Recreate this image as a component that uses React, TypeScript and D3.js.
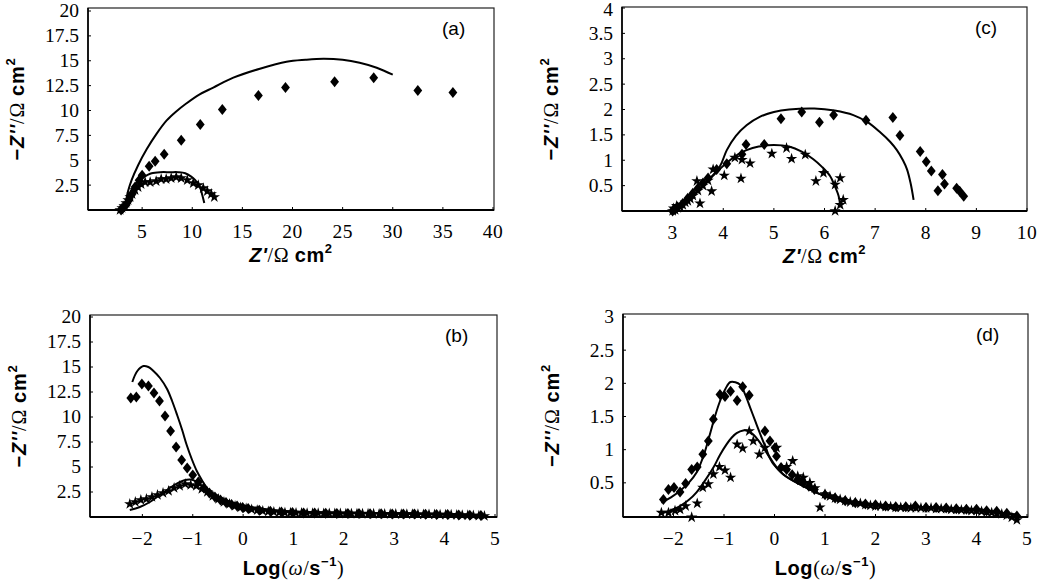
import React from 'react';
import * as d3 from 'd3';

type Pt = [number, number];

// ---- panel (a): Nyquist, sample 1 ----
const nyqADiamonds: Pt[] = [
  [36.0, 11.8], [32.5, 12.0], [28.1, 13.3], [24.2, 12.9], [19.3, 12.3], [16.6, 11.5],
  [13.0, 10.1], [10.8, 8.6], [8.9, 7.0], [7.2, 5.6], [6.3, 4.9], [5.7, 4.4], [5.0, 3.5],
  [4.7, 3.0], [4.3, 2.3], [4.0, 1.6], [3.7, 1.0], [3.4, 0.5], [3.1, 0.2], [2.9, 0.0],
];
const nyqAStars: Pt[] = [
  [2.8, 0.0], [3.0, 0.2], [3.2, 0.4], [3.4, 0.7], [3.6, 1.0], [3.8, 1.3], [4.0, 1.6],
  [4.3, 2.0], [4.6, 2.3], [4.9, 2.6], [5.3, 2.8], [5.8, 2.8], [6.4, 2.9], [6.9, 3.1],
  [7.4, 3.1], [7.9, 3.2], [8.4, 3.3], [8.9, 3.2], [9.5, 3.0], [10.1, 2.7], [10.6, 2.5],
  [11.1, 2.2], [11.5, 1.9], [11.9, 1.6], [12.2, 1.3],
];
const nyqADiamondFit: Pt[] = [
  [3.45, 1.2], [3.6, 1.9], [3.95, 3.0], [4.6, 4.5], [5.45, 6.1], [6.4, 7.6], [7.45, 9.0],
  [8.4, 9.9], [9.4, 10.7], [10.7, 11.6], [12.1, 12.3], [14.1, 13.3], [16.75, 14.2],
  [19.4, 14.9], [21.3, 15.1], [23.1, 15.2], [25.0, 15.1], [26.7, 14.8], [28.4, 14.3], [30.0, 13.6],
];
const nyqAStarFit: Pt[] = [
  [3.3, 0.6], [3.6, 1.3], [4.1, 2.3], [4.5, 2.8], [4.95, 3.2], [5.5, 3.5], [5.95, 3.7],
  [6.8, 3.8], [7.8, 3.8], [8.6, 3.8], [9.3, 3.7], [9.9, 3.35], [10.3, 3.0], [10.8, 2.2],
  [11.0, 1.5], [11.2, 0.7],
];

// ---- panel (b): Bode, sample 1 ----
const bodeBDiamonds: Pt[] = [
  [-2.23, 11.9], [-2.12, 12.0], [-2.01, 13.3], [-1.88, 13.1], [-1.77, 12.4], [-1.66, 11.6],
  [-1.55, 10.1], [-1.44, 8.6], [-1.33, 7.0], [-1.22, 5.7], [-1.11, 4.9], [-1.0, 4.2],
  [-0.89, 3.5], [-0.78, 2.9], [-0.67, 2.4], [-0.56, 2.0], [-0.45, 1.7], [-0.34, 1.45],
  [-0.23, 1.25], [-0.12, 1.1], [-0.01, 0.95], [0.1, 0.85], [0.32, 0.68], [0.54, 0.57],
  [0.76, 0.49], [0.98, 0.44], [1.2, 0.41], [1.42, 0.39], [1.64, 0.37], [1.86, 0.36],
  [2.08, 0.35], [2.3, 0.34], [2.52, 0.33], [2.74, 0.32], [2.96, 0.31], [3.18, 0.3],
  [3.4, 0.29], [3.62, 0.28], [3.84, 0.26], [4.06, 0.24], [4.28, 0.21], [4.5, 0.18], [4.72, 0.14],
];
const bodeBStars: Pt[] = [
  [-2.25, 1.3], [-2.14, 1.5], [-2.03, 1.7], [-1.92, 1.8], [-1.81, 2.0], [-1.7, 2.2],
  [-1.59, 2.4], [-1.48, 2.6], [-1.37, 2.9], [-1.26, 3.1], [-1.15, 3.3], [-1.04, 3.2],
  [-0.93, 3.1], [-0.82, 2.8], [-0.71, 2.5], [-0.6, 2.1], [-0.49, 1.8], [-0.38, 1.5],
  [-0.27, 1.3], [-0.16, 1.1], [-0.05, 0.95], [0.06, 0.85], [0.17, 0.75], [0.28, 0.68],
  [0.39, 0.6], [0.5, 0.55], [0.61, 0.5], [0.72, 0.47], [0.83, 0.44], [0.94, 0.42],
  [1.05, 0.4], [1.16, 0.4], [1.27, 0.38], [1.38, 0.38], [1.49, 0.37], [1.6, 0.36],
  [1.71, 0.36], [1.82, 0.35], [1.93, 0.35], [2.04, 0.34], [2.15, 0.34], [2.26, 0.33],
  [2.37, 0.33], [2.48, 0.32], [2.59, 0.32], [2.7, 0.31], [2.81, 0.3], [2.92, 0.3],
  [3.03, 0.3], [3.14, 0.29], [3.25, 0.28], [3.36, 0.28], [3.47, 0.27], [3.58, 0.26],
  [3.69, 0.26], [3.8, 0.25], [3.91, 0.24], [4.02, 0.23], [4.13, 0.22], [4.24, 0.2],
  [4.35, 0.19], [4.46, 0.17], [4.57, 0.15], [4.68, 0.13], [4.79, 0.1],
];
const bodeBDiamondFit: Pt[] = [
  [-2.2, 13.5], [-2.1, 14.6], [-1.98, 15.1], [-1.88, 15.0], [-1.78, 14.6], [-1.65, 13.9],
  [-1.51, 12.8], [-1.41, 11.6], [-1.31, 10.2], [-1.21, 8.7], [-1.12, 7.2], [-1.02, 5.8],
  [-0.92, 4.6], [-0.82, 3.7], [-0.72, 2.9], [-0.59, 2.3], [-0.46, 1.9], [-0.26, 1.5],
  [-0.06, 1.2], [0.2, 0.95], [0.47, 0.75], [0.8, 0.6], [1.2, 0.5], [2.0, 0.42], [3.0, 0.35],
  [4.0, 0.25], [4.8, 0.12],
];
const bodeBStarFit: Pt[] = [
  [-2.25, 0.7], [-2.05, 1.0], [-1.85, 1.5], [-1.68, 2.1], [-1.51, 2.7], [-1.35, 3.25],
  [-1.18, 3.65], [-1.05, 3.75], [-0.93, 3.55], [-0.82, 3.1], [-0.7, 2.6], [-0.59, 2.2],
  [-0.4, 1.75], [-0.2, 1.4], [0.1, 1.05], [0.47, 0.75], [0.8, 0.6], [1.2, 0.5], [2.0, 0.42],
  [3.0, 0.35], [4.0, 0.25], [4.8, 0.12],
];

// ---- panel (c): Nyquist, sample 2 ----
const nyqCDiamonds: Pt[] = [
  [8.75, 0.29], [8.67, 0.39], [8.61, 0.45], [8.37, 0.53], [8.24, 0.4], [8.33, 0.72],
  [8.11, 0.79], [8.01, 0.97], [7.89, 1.17], [7.49, 1.49], [7.35, 1.84], [6.82, 1.79],
  [6.18, 1.89], [5.9, 1.75], [5.55, 1.95], [5.14, 1.82], [4.81, 1.31], [4.45, 1.31],
  [4.37, 1.12], [4.07, 0.93], [3.87, 0.82], [3.7, 0.65], [3.6, 0.55], [3.5, 0.45],
  [3.4, 0.35], [3.3, 0.25], [3.2, 0.15], [3.1, 0.08], [3.05, 0.03], [3.0, 0.0],
];
const nyqCStars: Pt[] = [
  [6.31, 0.12], [6.21, 0.0], [6.37, 0.22], [6.31, 0.65], [6.21, 0.52], [5.98, 0.75],
  [5.83, 0.59], [5.62, 1.11], [5.35, 1.03], [5.25, 1.24], [4.96, 1.13], [4.53, 0.94],
  [4.37, 1.01], [4.35, 0.64], [4.23, 1.05], [4.02, 0.7], [3.8, 0.82], [3.77, 0.39],
  [3.48, 0.59], [3.54, 0.15], [3.7, 0.6], [3.6, 0.5], [3.5, 0.4], [3.4, 0.3], [3.3, 0.2],
  [3.2, 0.12], [3.1, 0.06], [3.05, 0.02], [3.0, 0.0], [3.02, 0.05], [3.08, 0.1],
  [3.15, 0.08], [3.25, 0.17], [3.35, 0.24],
];
const nyqCDiamondFit: Pt[] = [
  [3.75, 0.65], [3.94, 0.89], [4.07, 1.2], [4.25, 1.48], [4.46, 1.69], [4.73, 1.86],
  [5.0, 1.95], [5.3, 2.0], [5.8, 2.02], [6.2, 1.98], [6.57, 1.89], [6.85, 1.75], [7.1, 1.55],
  [7.3, 1.36], [7.43, 1.2], [7.55, 1.0], [7.63, 0.82], [7.7, 0.55], [7.76, 0.22],
];
const nyqCStarFit: Pt[] = [
  [3.0, 0.0], [3.2, 0.15], [3.4, 0.3], [3.6, 0.5], [3.8, 0.7], [4.07, 0.95], [4.3, 1.12],
  [4.46, 1.2], [4.7, 1.27], [5.0, 1.3], [5.3, 1.27], [5.55, 1.17], [5.78, 1.02], [5.95, 0.87],
  [6.11, 0.69], [6.2, 0.5], [6.28, 0.29], [6.31, 0.09],
];

// ---- panel (d): Bode, sample 2 ----
const bodeDDiamonds: Pt[] = [
  [-2.2, 0.25], [-2.1, 0.4], [-1.99, 0.43], [-1.87, 0.36], [-1.76, 0.49], [-1.64, 0.7],
  [-1.53, 0.74], [-1.42, 0.93], [-1.31, 1.13], [-1.21, 1.46], [-1.08, 1.83], [-0.98, 1.8],
  [-0.87, 1.88], [-0.74, 1.74], [-0.63, 1.95], [-0.5, 1.82], [-0.19, 1.28], [-0.09, 1.13],
  [0.01, 1.03], [0.04, 0.9], [0.13, 0.73], [0.24, 0.7], [0.35, 0.62], [0.46, 0.55],
  [0.57, 0.5], [0.68, 0.45], [0.79, 0.4], [1.0, 0.32], [1.2, 0.27], [1.4, 0.23], [1.6, 0.2],
  [1.8, 0.18], [2.0, 0.17], [2.2, 0.15], [2.4, 0.14], [2.6, 0.14], [2.79, 0.15], [3.0, 0.13],
  [3.2, 0.13], [3.4, 0.12], [3.6, 0.11], [3.8, 0.1], [4.0, 0.1], [4.2, 0.08], [4.4, 0.07],
  [4.6, 0.04], [4.8, 0.0],
];
const bodeDStars: Pt[] = [
  [-2.24, 0.05], [-2.1, 0.05], [-1.97, 0.08], [-1.87, 0.1], [-1.76, 0.15], [-1.64, -0.02],
  [-1.53, 0.19], [-1.42, 0.43], [-1.31, 0.48], [-1.21, 0.63], [-1.09, 0.74], [-0.98, 0.69],
  [-0.87, 0.58], [-0.74, 1.08], [-0.63, 1.02], [-0.5, 1.28], [-0.42, 1.13], [-0.3, 0.93],
  [-0.19, 1.03], [0.04, 1.03], [0.24, 0.74], [0.36, 0.83], [0.46, 0.6], [0.57, 0.58],
  [0.7, 0.5], [0.9, 0.13], [0.8, 0.42], [1.0, 0.33], [1.1, 0.3], [1.2, 0.27], [1.3, 0.25],
  [1.4, 0.23], [1.5, 0.21], [1.6, 0.2], [1.7, 0.19], [1.8, 0.17], [1.9, 0.16], [2.0, 0.15],
  [2.1, 0.15], [2.2, 0.14], [2.3, 0.14], [2.4, 0.13], [2.5, 0.13], [2.6, 0.13], [2.7, 0.12],
  [2.8, 0.12], [2.9, 0.12], [3.0, 0.12], [3.1, 0.12], [3.2, 0.11], [3.3, 0.11], [3.4, 0.11],
  [3.5, 0.1], [3.6, 0.1], [3.7, 0.09], [3.8, 0.09], [3.9, 0.08], [4.0, 0.08], [4.1, 0.07],
  [4.2, 0.06], [4.3, 0.05], [4.4, 0.04], [4.5, 0.03], [4.6, 0.01], [4.7, -0.02], [4.8, -0.06],
];
const bodeDDiamondFit: Pt[] = [
  [-2.24, 0.2], [-2.05, 0.28], [-1.87, 0.38], [-1.7, 0.5], [-1.54, 0.66], [-1.4, 0.92],
  [-1.28, 1.23], [-1.18, 1.5], [-1.08, 1.73], [-0.97, 1.92], [-0.87, 2.02], [-0.68, 1.98],
  [-0.58, 1.83], [-0.48, 1.63], [-0.38, 1.43], [-0.28, 1.23], [-0.18, 1.04], [-0.09, 0.88],
  [0.17, 0.63], [0.57, 0.45], [0.9, 0.33], [1.3, 0.23], [1.9, 0.18], [2.5, 0.15], [3.0, 0.13],
  [3.5, 0.12], [4.0, 0.1], [4.5, 0.05], [4.8, 0.02],
];
const bodeDStarFit: Pt[] = [
  [-2.27, 0.03], [-2.07, 0.08], [-1.87, 0.15], [-1.7, 0.24], [-1.54, 0.36], [-1.38, 0.53],
  [-1.21, 0.73], [-1.08, 0.92], [-0.95, 1.08], [-0.85, 1.18], [-0.75, 1.25], [-0.62, 1.29],
  [-0.52, 1.28], [-0.42, 1.23], [-0.32, 1.14], [-0.22, 1.03], [-0.12, 0.91], [-0.02, 0.78],
  [0.17, 0.63], [0.57, 0.45], [0.9, 0.33], [1.3, 0.23], [1.9, 0.18], [2.5, 0.15], [3.0, 0.13],
  [3.5, 0.12], [4.0, 0.1], [4.5, 0.05], [4.8, 0.02],
];

// ---- ticks ----
const ticksAX = [5, 10, 15, 20, 25, 30, 35, 40];
const ticksAY = [2.5, 5, 7.5, 10, 12.5, 15, 17.5, 20];
const ticksCX = [3, 4, 5, 6, 7, 8, 9, 10];
const ticksCY = [0.5, 1, 1.5, 2, 2.5, 3, 3.5, 4];
const ticksLogX = [-2, -1, 0, 1, 2, 3, 4, 5];
const ticksDY = [0.5, 1, 1.5, 2, 2.5, 3];

const SANS = '"Liberation Sans", Arial, sans-serif';
const SERIF = '"Liberation Serif", "Times New Roman", serif';

const diamondPath = 'M0,-5.5L4.4,0L0,5.5L-4.4,0Z';
const starPath = d3.symbol().type(d3.symbolStar).size(40)() as string;

const fmt = (v: number) => String(v).replace('-', '\u2212');

type PanelProps = {
  frame: { l: number; r: number; t: number; b: number };
  xDomain: [number, number];
  xRange: [number, number];
  yDomain: [number, number];
  yRange: [number, number];
  xTicks: number[];
  yTicks: number[];
  diamonds: Pt[];
  stars: Pt[];
  fits: Pt[][];
  label: string;
  bode: boolean;
};

const TITLE = 20;
const SUP = 13;

const ZTitle = ({ x, y }: { x: number; y: number }) => (
  <text x={x} y={y} textAnchor="middle" fontSize={TITLE} letterSpacing={0.6} fill="#000">
    <tspan fontFamily={SANS} fontWeight="bold" fontStyle="italic">Z'</tspan>
    <tspan fontFamily={SERIF}>/Ω </tspan>
    <tspan fontFamily={SANS} fontWeight="bold">cm</tspan>
    <tspan fontFamily={SANS} fontWeight="bold" fontSize={SUP} dy={-9}>2</tspan>
  </text>
);

const LogTitle = ({ x, y }: { x: number; y: number }) => (
  <text x={x} y={y} textAnchor="middle" fontSize={TITLE} letterSpacing={0.6} fill="#000">
    <tspan fontFamily={SANS} fontWeight="bold">Log</tspan>
    <tspan fontFamily={SERIF}>(</tspan>
    <tspan fontFamily={SERIF} fontStyle="italic">ω</tspan>
    <tspan fontFamily={SERIF}>/</tspan>
    <tspan fontFamily={SANS} fontWeight="bold">s</tspan>
    <tspan fontFamily={SANS} fontWeight="bold" fontSize={SUP} dy={-9}>−1</tspan>
    <tspan fontFamily={SERIF} dy={9}>)</tspan>
  </text>
);

const YTitle = ({ x, y }: { x: number; y: number }) => (
  <text
    transform={`translate(${x},${y}) rotate(-90)`}
    textAnchor="middle"
    fontSize={TITLE}
    letterSpacing={0.8}
    fill="#000"
  >
    <tspan fontFamily={SANS} fontWeight="bold">−</tspan>
    <tspan fontFamily={SANS} fontWeight="bold" fontStyle="italic">Z''</tspan>
    <tspan fontFamily={SERIF}>/Ω </tspan>
    <tspan fontFamily={SANS} fontWeight="bold">cm</tspan>
    <tspan fontFamily={SANS} fontWeight="bold" fontSize={SUP} dy={-9}>2</tspan>
  </text>
);

const Panel = (p: PanelProps) => {
  const x = d3.scaleLinear().domain(p.xDomain).range(p.xRange);
  const y = d3.scaleLinear().domain(p.yDomain).range(p.yRange);
  const line = d3
    .line<Pt>()
    .x((d) => x(d[0]))
    .y((d) => y(d[1]))
    .curve(d3.curveCatmullRom.alpha(0.5));
  const { l, r, t, b } = p.frame;
  const midX = (l + r) / 2;

  return (
    <g>
      {/* frame */}
      <rect x={l} y={t} width={r - l} height={b - t} fill="none" stroke="#222" strokeWidth={1.2} />
      <line x1={l} x2={r} y1={b} y2={b} stroke="#000" strokeWidth={2} />
      <line x1={l} x2={l} y1={t} y2={b} stroke="#000" strokeWidth={1.6} />

      {/* y ticks */}
      {p.yTicks.map((v) => (
        <g key={'y' + v}>
          <line x1={l} x2={l + 3} y1={y(v)} y2={y(v)} stroke="#000" strokeWidth={1} />
          <text
            x={l - 9}
            y={Math.max(y(v), 10)}
            dy="0.33em"
            textAnchor="end"
            fontFamily={SERIF}
            fontSize={19.5}
            fill="#000"
          >
            {fmt(v)}
          </text>
        </g>
      ))}

      {/* x ticks */}
      {p.xTicks.map((v) => (
        <g key={'x' + v}>
          <line x1={x(v)} x2={x(v)} y1={b} y2={b - 3} stroke="#000" strokeWidth={1} />
          <text
            x={x(v)}
            y={b + 28}
            textAnchor="middle"
            fontFamily={SERIF}
            fontSize={19.5}
            letterSpacing={0.5}
            fill="#000"
          >
            {fmt(v)}
          </text>
        </g>
      ))}

      {/* fitted curves */}
      {p.fits.map((f, i) => (
        <path key={'f' + i} d={line(f) ?? ''} fill="none" stroke="#000" strokeWidth={2} />
      ))}

      {/* data */}
      {p.diamonds.map((d, i) => (
        <path key={'d' + i} d={diamondPath} transform={`translate(${x(d[0])},${y(d[1])})`} fill="#000" />
      ))}
      {p.stars.map((d, i) => (
        <path key={'s' + i} d={starPath} transform={`translate(${x(d[0])},${y(d[1])})`} fill="#000" />
      ))}

      <text x={r - 52} y={t + 27} fontFamily={SANS} fontSize={19} fill="#000">
        {p.label}
      </text>

      {p.bode ? <LogTitle x={midX} y={b + 58} /> : <ZTitle x={midX} y={b + 52} />}
      <YTitle x={l - 64} y={(t + b) / 2} />
    </g>
  );
};

export default function App() {
  return (
    <svg
      width={1046}
      height={585}
      style={{ display: 'block', position: 'absolute', left: 0, top: 0 }}
    >
      <rect width={1046} height={585} fill="#fff" />
      <Panel
        frame={{ l: 88, r: 494, t: 8, b: 210 }}
        xDomain={[0, 40]}
        xRange={[92, 493]}
        yDomain={[0, 20]}
        yRange={[210, 11]}
        xTicks={ticksAX}
        yTicks={ticksAY}
        diamonds={nyqADiamonds}
        stars={nyqAStars}
        fits={[nyqADiamondFit, nyqAStarFit]}
        label="(a)"
        bode={false}
      />
      <Panel
        frame={{ l: 90, r: 497, t: 315, b: 517 }}
        xDomain={[-3, 5]}
        xRange={[92, 495]}
        yDomain={[0, 20]}
        yRange={[517, 317]}
        xTicks={ticksLogX}
        yTicks={ticksAY}
        diamonds={bodeBDiamonds}
        stars={bodeBStars}
        fits={[bodeBDiamondFit, bodeBStarFit]}
        label="(b)"
        bode={true}
      />
      <Panel
        frame={{ l: 622, r: 1027, t: 7, b: 211 }}
        xDomain={[2, 10]}
        xRange={[622, 1027]}
        yDomain={[0, 4]}
        yRange={[211, 8]}
        xTicks={ticksCX}
        yTicks={ticksCY}
        diamonds={nyqCDiamonds}
        stars={nyqCStars}
        fits={[nyqCDiamondFit, nyqCStarFit]}
        label="(c)"
        bode={false}
      />
      <Panel
        frame={{ l: 623, r: 1028, t: 314, b: 517 }}
        xDomain={[-3, 5]}
        xRange={[623, 1027]}
        yDomain={[0, 3]}
        yRange={[516, 317]}
        xTicks={ticksLogX}
        yTicks={ticksDY}
        diamonds={bodeDDiamonds}
        stars={bodeDStars}
        fits={[bodeDDiamondFit, bodeDStarFit]}
        label="(d)"
        bode={true}
      />
    </svg>
  );
}
